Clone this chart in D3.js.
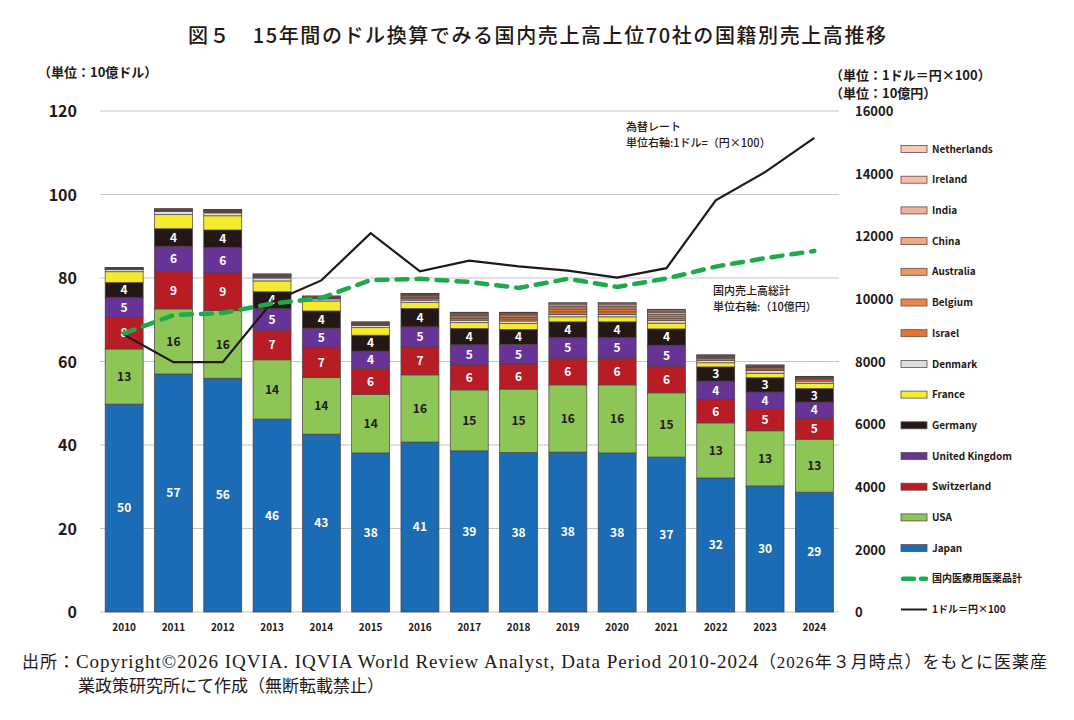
<!DOCTYPE html>
<html><head><meta charset="utf-8">
<script src="https://cdn.jsdelivr.net/npm/d3@7"></script>
<style>body{margin:0;background:#fff} svg{display:block}</style>
</head><body>
<svg id="c" width="1074" height="720"></svg>
<script>
const years = ["2010","2011","2012","2013","2014","2015","2016","2017","2018","2019","2020","2021","2022","2023","2024"];
const japan       = [49.8,57.0,56.0,46.2,42.6,38.1,40.7,38.6,38.2,38.3,38.1,37.1,32.1,30.2,28.7];
const usa         = [13.2,15.6,16.2,14.2,13.6,14.0,16.1,14.6,15.2,16.1,16.3,15.4,13.2,13.2,12.7];
const switzerland = [7.6,8.9,9.0,7.1,7.2,6.2,6.7,6.0,6.0,6.4,6.4,6.4,5.6,5.2,5.0];
const uk          = [4.7,6.1,6.1,5.2,4.6,4.2,4.8,4.8,4.7,4.9,4.9,5.0,4.4,4.1,3.9];
const germany     = [3.6,4.2,4.2,4.0,4.1,3.8,4.4,3.9,3.6,3.8,3.8,3.9,3.4,3.4,3.2];
const france      = [2.6,3.4,3.4,2.6,2.4,1.8,1.4,1.4,1.4,1.2,1.2,1.4,1.0,1.1,1.3];
const denmark     = [0.5,0.7,0.7,0.7,0.5,0.5,0.6,0.6,0.6,0.6,0.6,0.6,0.6,0.6,0.5];
const israel      = [0.1,0.2,0.2,0.25,0.2,0.25,0.4,0.45,0.5,0.6,0.6,0.55,0.4,0.4,0.35];
const belgium     = [0.1,0.1,0.15,0.2,0.15,0.15,0.3,0.35,0.4,0.5,0.5,0.5,0.3,0.3,0.25];
const australia   = [0.1,0.1,0.1,0.15,0.1,0.15,0.3,0.3,0.35,0.45,0.45,0.45,0.2,0.2,0.15];
const china       = [0.05,0.1,0.1,0.1,0.1,0.1,0.2,0.25,0.3,0.4,0.4,0.4,0.15,0.2,0.15];
const india       = [0.05,0.1,0.1,0.1,0.05,0.1,0.2,0.25,0.25,0.35,0.35,0.35,0.1,0.1,0.1];
const ireland     = [0.05,0.05,0.1,0.1,0.05,0.1,0.1,0.2,0.2,0.3,0.3,0.3,0.1,0.1,0.05];
const netherlands = [0.05,0.05,0.05,0.1,0.05,0.05,0.1,0.1,0.1,0.2,0.2,0.15,0.05,0.1,0.05];
// right axis series
const domesticTotal = [8900,9480,9550,9850,10030,10600,10640,10540,10350,10640,10380,10650,11030,11300,11530];
const exchangeRate  = [8850,7980,7980,9900,10590,12100,10880,11220,11040,10900,10680,10980,13150,14050,15140];

const leftTicks = [0,20,40,60,80,100,120];
const rightTicks = [0,2000,4000,6000,8000,10000,12000,14000,16000];

const series = [
  {key:"Japan", vals:japan, color:"#1b6bb5", label:true, txt:"#fff"},
  {key:"USA", vals:usa, color:"#8dc556", label:true, txt:"#231815"},
  {key:"Switzerland", vals:switzerland, color:"#b81c25", label:true, txt:"#fff"},
  {key:"United Kingdom", vals:uk, color:"#683397", label:true, txt:"#fff"},
  {key:"Germany", vals:germany, color:"#231815", label:true, txt:"#fff"},
  {key:"France", vals:france, color:"#f4ea30"},
  {key:"Denmark", vals:denmark, color:"#dcdddd"},
  {key:"Israel", vals:israel, color:"#e8732a"},
  {key:"Belgium", vals:belgium, color:"#ec8546"},
  {key:"Australia", vals:australia, color:"#ef9863"},
  {key:"China", vals:china, color:"#f1a582"},
  {key:"India", vals:india, color:"#f3b09a"},
  {key:"Ireland", vals:ireland, color:"#f5bca8"},
  {key:"Netherlands", vals:netherlands, color:"#f7c9b7"}
];

const table = years.map((y,i)=>{const o={year:y}; series.forEach(s=>o[s.key]=s.vals[i]); return o;});
const stack = d3.stack().keys(series.map(s=>s.key))(table);

const svg = d3.select("#c");
const FONT = "'Noto Sans CJK JP','Noto Sans',sans-serif";
svg.attr("font-family", FONT);

const x = d3.scaleBand().domain(years).range([99.5,839]).paddingInner(0.23).paddingOuter(0.115);
const yL = d3.scaleLinear().domain([0,120]).range([612,111]);
const yR = d3.scaleLinear().domain([0,16000]).range([612,111]);

// gridlines
svg.append("g").selectAll("line").data(leftTicks).join("line")
  .attr("x1",100).attr("x2",839).attr("y1",d=>yL(d)).attr("y2",d=>yL(d))
  .attr("stroke","#c4c4c4").attr("stroke-width",1.2);

// left axis
const axL = svg.append("g").attr("transform","translate(100,0)")
  .call(d3.axisLeft(yL).tickValues(leftTicks).tickSize(0).tickPadding(23));
axL.select(".domain").remove();
axL.selectAll("text").attr("font-family",FONT).attr("font-size",16).attr("font-weight","bold").attr("fill","#231815").attr("dy","0.36em");

// right axis
const axR = svg.append("g").attr("transform","translate(855,0)")
  .call(d3.axisRight(yR).tickValues(rightTicks).tickSize(0).tickPadding(0).tickFormat(d3.format("d")));
axR.select(".domain").remove();
axR.selectAll("text").attr("font-family",FONT).attr("font-size",13).attr("font-weight","bold").attr("fill","#231815").attr("dy","0.36em");

// x axis labels
const axX = svg.append("g").attr("transform","translate(0,612)")
  .call(d3.axisBottom(x).tickSize(0).tickPadding(12));
axX.select(".domain").remove();
axX.selectAll("text").attr("font-family",FONT).attr("font-size",10).attr("font-weight","bold").attr("fill","#231815");

// bars
const colorOf = Object.fromEntries(series.map(s=>[s.key,s.color]));
const gBars = svg.append("g");
stack.forEach(layer=>{
  gBars.append("g").selectAll("rect").data(layer).join("rect")
    .attr("x",d=>x(d.data.year)).attr("width",x.bandwidth())
    .attr("y",d=>yL(d[1])).attr("height",d=>yL(d[0])-yL(d[1]))
    .attr("fill",colorOf[layer.key]).attr("stroke","#4a4040").attr("stroke-width",0.7);
});
// labels
stack.forEach((layer,li)=>{
  const s = series[li];
  if(!s.label) return;
  svg.append("g").selectAll("text").data(layer).join("text")
    .attr("x",d=>x(d.data.year)+x.bandwidth()/2)
    .attr("y",d=>(yL(d[0])+yL(d[1]))/2).attr("dy","0.36em")
    .attr("text-anchor","middle").attr("font-size",12).attr("font-weight","bold")
    .attr("fill",s.txt).text(d=>Math.round(d[1]-d[0]));
});

// lines
const cx = d=>x(d)+x.bandwidth()/2;
const lineR = d3.line().x((d,i)=>cx(years[i])).y(d=>yR(d));
svg.append("path").datum(exchangeRate).attr("d",lineR)
  .attr("fill","none").attr("stroke","#231815").attr("stroke-width",2.2);
svg.append("path").datum(domesticTotal).attr("d",lineR)
  .attr("fill","none").attr("stroke","#1eaa4b").attr("stroke-width",4.5)
  .attr("stroke-dasharray","11 9").attr("stroke-linecap","round");

// annotations
const ann = (t,xx,yy,size,weight)=>svg.append("text").attr("x",xx).attr("y",yy).attr("font-size",size).attr("font-weight",weight||"normal").attr("fill","#231815").text(t);
ann("為替レート",626,131,11,500);
ann("単位右軸:1ドル=（円×100）",626,147,11,500);
ann("国内売上高総計",713,295,11,500);
ann("単位右軸:（10億円）",713,311,11,500);

// title
svg.append("text").attr("x",537).attr("y",43).attr("text-anchor","middle")
  .attr("font-size",20).attr("font-weight",500).attr("fill","#231815")
  .attr("textLength",698).attr("lengthAdjust","spacing")
  .text("図５　15年間のドル換算でみる国内売上高上位70社の国籍別売上高推移");

// unit labels
ann("（単位：10億ドル）",38,77,13,"bold");
ann("（単位：1ドル＝円×100）",830,80,13,"bold");
ann("（単位：10億円）",830,98,13,"bold");

// legend
const legendItems = series.slice().reverse();
const lg = svg.append("g");
const ly0 = 149, lstep = 30.7;
legendItems.forEach((s,i)=>{
  const yy = ly0 + i*lstep;
  lg.append("rect").attr("x",901).attr("y",yy-3.5).attr("width",26).attr("height",7)
    .attr("fill",s.color).attr("stroke","#5a4f4f").attr("stroke-width",0.8);
  lg.append("text").attr("x",932).attr("y",yy).attr("dy","0.36em").attr("font-size",10).attr("font-weight","bold").attr("fill","#231815").text(s.key);
});
{
  const yy = ly0 + legendItems.length*lstep;
  lg.append("line").attr("x1",903).attr("x2",926).attr("y1",yy).attr("y2",yy)
    .attr("stroke","#1eaa4b").attr("stroke-width",4.5).attr("stroke-dasharray","11 7").attr("stroke-linecap","round");
  lg.append("text").attr("x",932).attr("y",yy).attr("dy","0.36em").attr("font-size",10).attr("font-weight","bold").attr("fill","#231815").text("国内医療用医薬品計");
  const y2 = yy + lstep;
  lg.append("line").attr("x1",901).attr("x2",927).attr("y1",y2).attr("y2",y2).attr("stroke","#231815").attr("stroke-width",2);
  lg.append("text").attr("x",932).attr("y",y2).attr("dy","0.36em").attr("font-size",10).attr("font-weight","bold").attr("fill","#231815").text("1ドル＝円×100");
}

// footer
const SERIF = "'Liberation Serif','Noto Sans CJK JP',serif";
const f1 = svg.append("text").attr("x",22).attr("y",668).attr("font-family",SERIF).attr("font-size",17).attr("fill","#231815")
  .attr("textLength",1025).attr("lengthAdjust","spacing");
f1.append("tspan").text("出所：");
f1.append("tspan").attr("font-size",19).text("Copyright©2026 IQVIA. IQVIA World Review Analyst, Data Period 2010-2024");
f1.append("tspan").text("（2026年３月時点）をもとに医薬産");
svg.append("text").attr("x",78).attr("y",692).attr("font-family",SERIF).attr("font-size",17).attr("fill","#231815")
  .text("業政策研究所にて作成（無断転載禁止）");
</script>
</body></html>
